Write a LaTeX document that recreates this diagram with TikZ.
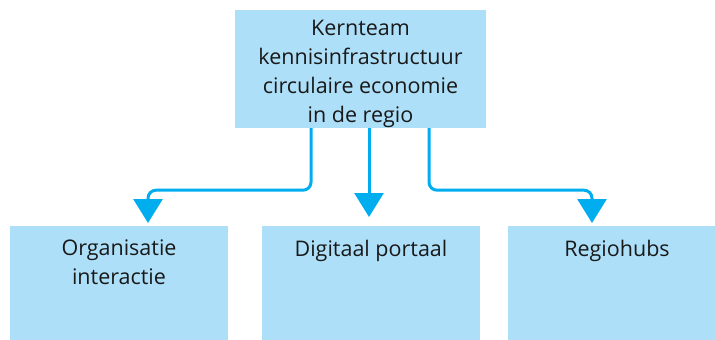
\documentclass[tikz,border=0pt]{standalone}
\usepackage{fontspec}
\setmainfont{Open Sans}
\usetikzlibrary{arrows.meta}
\definecolor{boxfill}{HTML}{ADDFF8}
\definecolor{arrowblue}{HTML}{00AEEF}
\begin{document}
\begin{tikzpicture}[x=1pt,y=-1pt,
  box/.style={fill=boxfill,draw=none,inner sep=0pt},
  lbl/.style={font=\fontsize{21.5}{29}\selectfont,align=center,inner sep=0pt,text=black!90},
  arr/.style={draw=arrowblue,line width=3pt,rounded corners=8pt,-{Triangle[width=29pt,length=24pt]}}]
\useasboundingbox (0,0) rectangle (715,340);
\node[box,minimum width=251pt,minimum height=118pt] (top) at (360.5,69) {};
\node[lbl] (toptext) at (360.5,74) {Kernteam\\kennisinfrastructuur\\circulaire economie\\in de regio};
\node[box,minimum width=218pt,minimum height=120pt,anchor=north] (b1) at (119,226) {};
\node[box,minimum width=218pt,minimum height=120pt,anchor=north] (b2) at (371,226) {};
\node[box,minimum width=218pt,minimum height=120pt,anchor=north] (b3) at (617,226) {};
\node[lbl,anchor=north] (t1) at ([yshift=-14pt]b1.north) {Organisatie\\interactie};
\node[lbl,anchor=north] (t2) at ([yshift=-14pt]b2.north) {Digitaal portaal};
\node[lbl,anchor=north] (t3) at ([yshift=-14pt]b3.north) {Regiohubs};
\draw[arr] ([xshift=-49.5pt]top.south) -- ++(0,62) -| ([xshift=29pt,yshift=3pt]b1.north);
\draw[arr] ([xshift=8.5pt]top.south) -- ([xshift=-2pt,yshift=9pt]b2.north);
\draw[arr] ([xshift=68.5pt]top.south) -- ++(0,62) -| ([xshift=-25pt,yshift=3pt]b3.north);
\end{tikzpicture}
\end{document}
